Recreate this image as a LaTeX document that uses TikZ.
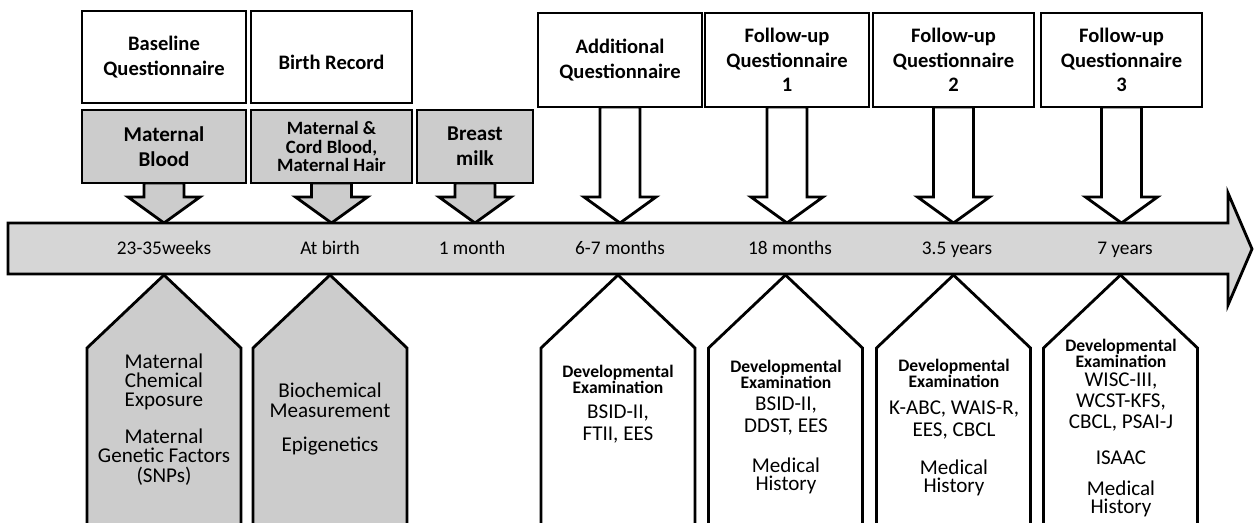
\documentclass[tikz,border=0pt]{standalone}
\usepackage{fontspec}
\setmainfont{Carlito}
\usetikzlibrary{calc}
\pgfdeclarelayer{bg}
\pgfsetlayers{bg,main}
\definecolor{gfill}{gray}{0.80}
\definecolor{tlfill}{gray}{0.84}
\tikzset{
  lw/.style={line width=1.6pt},
  qbox/.style={draw, lw, fill=white, inner sep=0pt, outer sep=0pt, align=center,
    font=\bfseries\fontsize{11.7}{13.8}\selectfont},
  gbox/.style={qbox, fill=gfill},
  barrow/.style={draw, lw, line join=miter, miter limit=10},
  tlabel/.style={inner sep=0pt, anchor=base, font=\fontsize{11}{13}\selectfont},
  devtxt/.style={inner sep=0pt, align=center, font=\bfseries\fontsize{10}{9}\selectfont},
  rtxt/.style={inner sep=0pt, align=center, font=\fontsize{12}{#1}\selectfont},
  rtxt/.default=13,
  pent/.style={draw, lw, line join=miter},
}
\newcommand{\blockarr}[2]{%
  \begin{pgfonlayer}{bg}
  \draw[barrow, fill=#2] ($(#1.south)+(-20,0)$) -- ($(#1.south |- sh)+(-20,0)$)
    -- ($(#1.south |- sh)+(-36,0)$) -- (#1.south |- tip)
    -- ($(#1.south |- sh)+(36,0)$) -- ($(#1.south |- sh)+(20,0)$)
    -- ($(#1.south)+(20,0)$) -- cycle;
  \end{pgfonlayer}}
\newcommand{\pentagon}[2]{%
  \draw[pent, fill=#2] (#1-77,530) -- (#1-77,348) -- (#1,275) -- (#1+77,348) -- (#1+77,530);}
\begin{document}
\begin{tikzpicture}[x=0.02cm,y=-0.02cm]
\useasboundingbox (0,0) rectangle (1254,523);
\coordinate (sh) at (0,197);
\coordinate (tip) at (0,223);
% timeline arrow
\draw[lw, fill=tlfill, line join=miter] (8,223) -- (1228,223) -- (1228,193) -- (1252,249)
  -- (1228,305) -- (1228,274) -- (8,274) -- cycle;
% top boxes
\node[qbox, minimum width=3.28cm, minimum height=1.84cm] (bq) at (164,57) {Baseline\\Questionnaire};
\node[qbox, minimum width=3.22cm, minimum height=1.84cm, text height=14pt, text depth=0pt] (br) at (331.5,57) {Birth Record};
\node[qbox, minimum width=3.28cm, minimum height=1.88cm] (aq) at (620,60) {Additional\\Questionnaire};
\node[qbox, minimum width=3.28cm, minimum height=1.88cm] (f1) at (787,60) {Follow-up\\Questionnaire\\1};
\node[qbox, minimum width=3.22cm, minimum height=1.88cm] (f2) at (953.5,60) {Follow-up\\Questionnaire\\2};
\node[qbox, minimum width=3.22cm, minimum height=1.88cm] (f3) at (1121.5,60) {Follow-up\\Questionnaire\\3};
% grey sample boxes
\node[gbox, minimum width=3.28cm, minimum height=1.46cm, font=\bfseries\fontsize{12}{14.2}\selectfont] (mb) at (164,146.5) {Maternal\\Blood};
\node[gbox, minimum width=3.22cm, minimum height=1.46cm, font=\bfseries\fontsize{10.7}{10.6}\selectfont] (mc) at (331.5,146.5) {Maternal \&\\Cord Blood,\\Maternal Hair};
\node[gbox, minimum width=2.32cm, minimum height=1.46cm, font=\bfseries\fontsize{12}{14.2}\selectfont] (bm) at (475,146.5) {Breast\\milk};
% block arrows
\blockarr{mb}{gfill}
\blockarr{mc}{gfill}
\blockarr{bm}{gfill}
\blockarr{aq}{white}
\blockarr{f1}{white}
\blockarr{f2}{white}
\blockarr{f3}{white}
% timeline labels
\node[tlabel] (t1) at (164,255) {23-35weeks};
\node[tlabel] (t2) at (330,255) {At birth};
\node[tlabel] (t3) at (472,255) {1 month};
\node[tlabel] (t4) at (620,255) {6-7 months};
\node[tlabel] (t5) at (790,255) {18 months};
\node[tlabel] (t6) at (957,255) {3.5 years};
\node[tlabel] (t7) at (1125,255) {7 years};
% pentagons
\pentagon{164}{gfill}
\pentagon{330}{gfill}
\pentagon{618}{white}
\pentagon{785.5}{white}
\pentagon{953.5}{white}
\pentagon{1120.5}{white}
% pentagon texts
\node[rtxt=11] (p1a) at (164,382) {Maternal\\Chemical\\Exposure};
\node[rtxt=11] (p1b) at (164,457) {Maternal\\Genetic Factors\\(SNPs)};
\node[rtxt=11.3] (p2a) at (330,400) {Biochemical\\Measurement};
\node[rtxt] (p2b) at (330,446) {Epigenetics};
\node[devtxt] (p3a) at (618,379) {Developmental\\Examination};
\node[rtxt=13] (p3b) at (618,424) {BSID-II,\\FTII, EES};
\node[devtxt] (p4a) at (786,374) {Developmental\\Examination};
\node[rtxt=13] (p4b) at (786,416) {BSID-II,\\DDST, EES};
\node[rtxt=10.5] (p4c) at (786,476) {Medical\\History};
\node[devtxt] (p5a) at (954,373) {Developmental\\Examination};
\node[rtxt=13] (p5b) at (954,420) {K-ABC, WAIS-R,\\EES, CBCL};
\node[rtxt=10.5] (p5c) at (954,478) {Medical\\History};
\node[devtxt] (p6a) at (1121,353) {Developmental\\Examination};
\node[rtxt=12] (p6b) at (1121,402) {WISC-III,\\WCST-KFS,\\CBCL, PSAI-J};
\node[rtxt] (p6c) at (1121,458) {ISAAC};
\node[rtxt=10.5] (p6d) at (1121,499) {Medical\\History};
\end{tikzpicture}
\end{document}
